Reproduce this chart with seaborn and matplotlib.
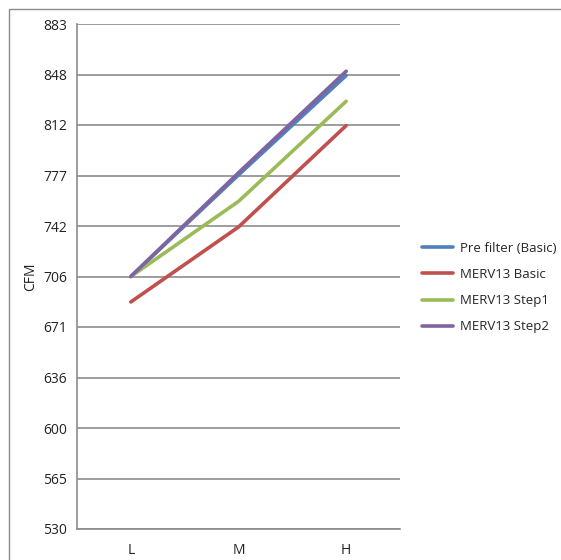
import numpy as np
import pandas as pd
import seaborn as sns
import matplotlib.pyplot as plt
from matplotlib.patches import Rectangle

# data
speeds = ["L", "M", "H"]
pre_filter_basic = [706.5, 777.5, 847.0]
merv13_basic = [688.7, 741.1, 812.0]
merv13_step1 = [706.5, 759.0, 829.0]
merv13_step2 = [706.5, 779.0, 850.0]

series_names = ["Pre filter (Basic)", "MERV13 Basic", "MERV13 Step1", "MERV13 Step2"]
series_values = [pre_filter_basic, merv13_basic, merv13_step1, merv13_step2]
colors = ["#4F81BD", "#C0504D", "#9BBB59", "#8064A2"]

y_ticks = np.linspace(530, 883, 11)
y_tick_labels = ["530", "565", "600", "636", "671", "706", "742", "777", "812", "848", "883"]

rows = []
for name, vals in zip(series_names, series_values):
    for s, v in zip(speeds, vals):
        rows.append({"Speed": s, "CFM": v, "Series": name})
df = pd.DataFrame(rows)

sns.set_style("white")
plt.rcParams['font.family'] = ['Open Sans', 'DejaVu Sans']

fig = plt.figure(figsize=(5.61, 5.6), dpi=100)
# outer chart frame (only top and left visible)
fig.patches.append(Rectangle((9 / 561, -0.1), 1.2, (560 - 9) / 560 + 0.1,
                             transform=fig.transFigure, fill=False,
                             edgecolor="#8c8c8c", linewidth=1.0))

ax = fig.add_axes([77 / 561, 31 / 560, 323 / 561, 505 / 560])

sns.lineplot(data=df, x="Speed", y="CFM", hue="Series", palette=colors,
             hue_order=series_names, linewidth=2.6, ax=ax, sort=False)

ax.set_xlim(-0.5, 2.5)
ax.set_ylim(530, 883)
ax.set_yticks(y_ticks)
ax.set_yticklabels(y_tick_labels)
ax.set_xticks([0, 1, 2])
ax.set_xticklabels(speeds)
ax.set_xticks([-0.5, 0.5, 1.5, 2.5], minor=True)
ax.tick_params(axis="x", which="major", length=0, pad=10, labelsize=10, colors="#222222")
ax.tick_params(axis="x", which="minor", length=5, width=1, color="#8c8c8c", direction="out")
ax.tick_params(axis="y", length=5, width=1, color="#8c8c8c", direction="out",
               labelsize=10, labelcolor="#222222", pad=2)

ax.grid(axis="y", color="#8c8c8c", linewidth=1.2)
ax.set_axisbelow(True)
for side in ["top", "right"]:
    ax.spines[side].set_visible(False)
for side in ["left", "bottom"]:
    ax.spines[side].set_color("#8c8c8c")
    ax.spines[side].set_linewidth(1.2)

ax.set_xlabel("")
ax.set_ylabel("CFM", fontsize=10, color="#222222", labelpad=4)

ax.legend(loc="center left", bbox_to_anchor=(1.03, 0.478), frameon=False,
          fontsize=9.5, handlelength=2.4, handletextpad=0.5, labelspacing=1.0)

fig.savefig("out.png", dpi=100)
